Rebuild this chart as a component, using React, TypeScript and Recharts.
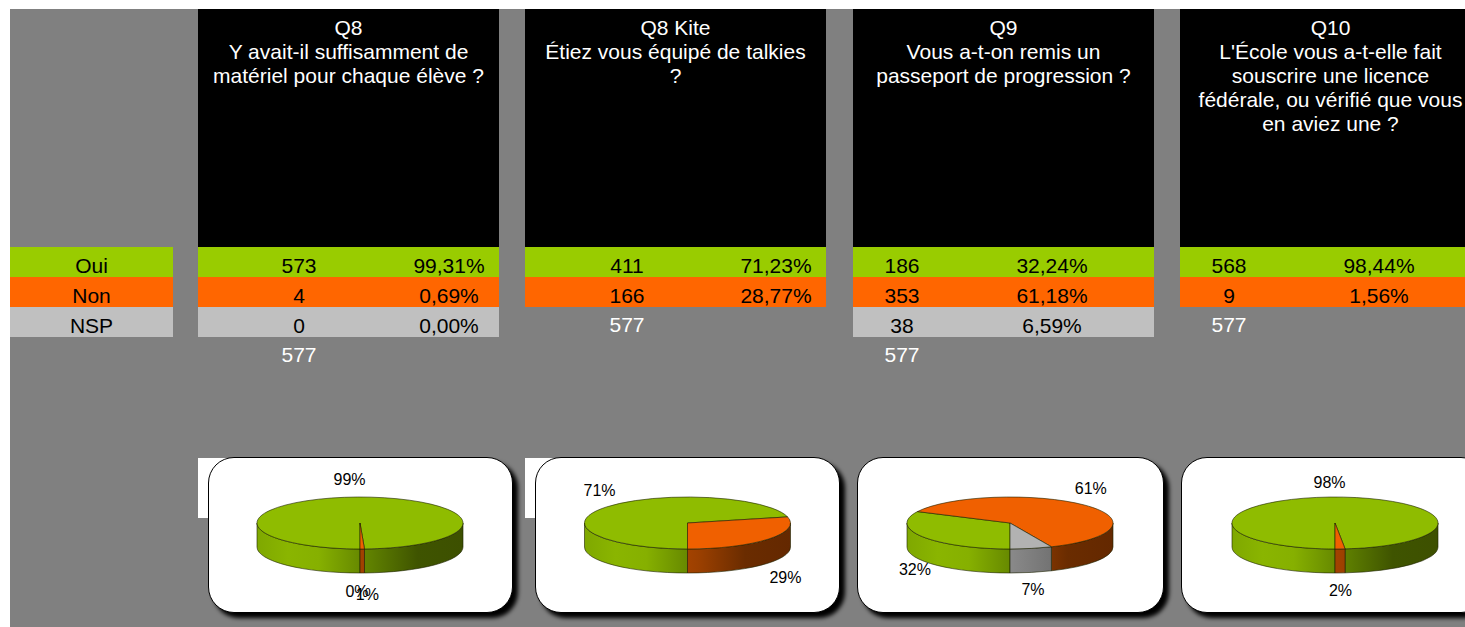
import { PieChart, Pie } from 'recharts';

const answers = ['Oui', 'Non', 'NSP'];
const titles = ['Q8', 'Q8 Kite', 'Q9', 'Q10'];
const questions = [
  ['Y avait-il suffisamment de', 'matériel pour chaque élève ?'],
  ['Étiez vous équipé de talkies', '?'],
  ['Vous a-t-on remis un', 'passeport de progression ?'],
  ["L'École vous a-t-elle fait", 'souscrire une licence', 'fédérale, ou vérifié que vous', 'en aviez une ?'],
];
const q8Counts = [573, 4, 0];
const q8KiteCounts = [411, 166];
const q9Counts = [186, 353, 38];
const q10Counts = [568, 9];
const q8Shares = ['99,31%', '0,69%', '0,00%'];
const q8KiteShares = ['71,23%', '28,77%'];
const q9Shares = ['32,24%', '61,18%', '6,59%'];
const q10Shares = ['98,44%', '1,56%'];
const totals = [577, 577, 577, 577];

const counts = [q8Counts, q8KiteCounts, q9Counts, q10Counts];
const shares = [q8Shares, q8KiteShares, q9Shares, q10Shares];

const rowColors = ['#99cc00', '#ff6600', '#c0c0c0'];
const topColors = ['#8fbc00', '#f06000', '#b2b2b2'];
const FONT = '"Liberation Sans", Arial, sans-serif';

// layout of each question block
const columns = [
  { left: 198, width: 301, countX: 101, shareX: 251, cardLeft: 208, cardWidth: 305, cx: 360, white: true },
  { left: 525, width: 301, countX: 102, shareX: 251, cardLeft: 535, cardWidth: 305, cx: 687.5, white: true },
  { left: 853, width: 301, countX: 49, shareX: 199, cardLeft: 857, cardWidth: 307, cx: 1010, white: false },
  { left: 1180, width: 301, countX: 49, shareX: 199, cardLeft: 1181, cardWidth: 306, cx: 1335, white: false },
];

// small per-label shifts where the automatic placement is off
const labelNudges = [
  [[-8, 0], [5, 5], [-3, 1]],
  [[0, 0], [10, 4]],
  [[0, 0], [0, 0], [0, 0]],
  [[0, 3], [0, 1]],
];

const CARD_TOP = 457;
const CARD_HEIGHT = 156;
const CY = 66; // pie centre, relative to card
const RX = 103;
const SQUASH = 0.2524;
const DEPTH = 24;
const EDGE = '#1c2200';

const RAD = Math.PI / 180;
const px = (cx: number, a: number) => cx + RX * Math.cos(a * RAD);
const py = (cy: number, a: number) => cy - RX * SQUASH * Math.sin(a * RAD);

function TopSlice(props: any) {
  const { cx, cy, startAngle, endAngle, fill } = props;
  if (startAngle === endAngle) return <g />;
  const large = Math.abs(startAngle - endAngle) > 180 ? 1 : 0;
  const d =
    `M${cx},${cy} L${px(cx, startAngle)},${py(cy, startAngle)} ` +
    `A${RX},${RX * SQUASH} 0 ${large} 1 ${px(cx, endAngle)},${py(cy, endAngle)} Z`;
  return <path d={d} fill={fill} stroke={EDGE} strokeOpacity={0.6} strokeWidth={1} />;
}

// Side wall: only the part of the slice on the front half of the ellipse shows
function WallSlice(props: any) {
  const { cx, cy, startAngle, endAngle, index, wallPrefix } = props;
  const hi = Math.max(startAngle, endAngle);
  const lo = Math.min(startAngle, endAngle);
  if (hi === lo) return <g />;
  const parts: [number, number][] = [];
  for (const [from, to] of [[360, 180], [0, -180]]) {
    const a = Math.min(hi, from);
    const b = Math.max(lo, to);
    if (a > b) parts.push([a, b]);
  }
  return (
    <g>
      {parts.map(([a, b]) => (
        <path
          key={a}
          d={
            `M${px(cx, a)},${py(cy, a)} A${RX},${RX * SQUASH} 0 0 1 ${px(cx, b)},${py(cy, b)} ` +
            `L${px(cx, b)},${py(cy, b) + DEPTH} A${RX},${RX * SQUASH} 0 0 0 ${px(cx, a)},${py(cy, a) + DEPTH} Z`
          }
          fill={`url(#${wallPrefix}${index})`}
          stroke={EDGE}
          strokeOpacity={0.6}
          strokeWidth={1}
        />
      ))}
    </g>
  );
}

function SliceLabel(props: any) {
  const { cx, cy, midAngle, percent, index, nudges } = props;
  const s = Math.sin(midAngle * RAD);
  const [dx, dy] = nudges[index];
  const x = cx + 112 * Math.cos(midAngle * RAD) + dx;
  const y = (s > 0 ? cy - 13 - 31 * s : cy + 23 + 44 * -s) + dy;
  return (
    <text x={x} y={y} fill="#000" fontFamily={FONT} fontSize={16} textAnchor="middle" dominantBaseline="central">
      {Math.round(percent * 100)}%
    </text>
  );
}

const wallStops = [
  ['#7fa800', '#8ab500', '#86b000', '#5f8000', '#3f5400', '#3d5000'],
  ['#c85000', '#d05400', '#c04c00', '#9c4000', '#6a2c00', '#642800'],
  ['#a8a8a8', '#b0b0b0', '#a0a0a0', '#848484', '#6a6a6a', '#606060'],
];
const stopOffsets = [0, 0.15, 0.3, 0.55, 0.78, 1];

function Panel({ i }: { i: number }) {
  const col = columns[i];
  const data = counts[i].map((v, j) => ({ name: answers[j], value: v, fill: topColors[j] }));
  const cx = col.cx - col.cardLeft;
  const prefix = `wall${i}-`;
  return (
    <>
      <div style={{ position: 'absolute', left: col.left, top: 9, width: col.width, height: 238, background: '#000', color: '#fff', textAlign: 'center', fontSize: 21, lineHeight: '24px', paddingTop: 7, boxSizing: 'border-box', whiteSpace: 'nowrap' }}>
        <div>{titles[i]}</div>
        {questions[i].map((q) => (
          <div key={q}>{q}</div>
        ))}
      </div>
      {counts[i].map((c, j) => (
        <div key={j} style={{ position: 'absolute', left: col.left, top: 247 + j * 30, width: col.width, height: 30, background: rowColors[j], color: '#000', fontSize: 21, lineHeight: '37px' }}>
          <span style={{ position: 'absolute', left: col.countX, transform: 'translateX(-50%)' }}>{c}</span>
          <span style={{ position: 'absolute', left: col.shareX, transform: 'translateX(-50%)' }}>{shares[i][j]}</span>
        </div>
      ))}
      <div style={{ position: 'absolute', left: col.left + col.countX, top: 246 + counts[i].length * 30, transform: 'translateX(-50%)', color: '#fff', fontSize: 21, lineHeight: '37px' }}>
        {totals[i]}
      </div>
      {col.white && <div style={{ position: 'absolute', left: col.left, top: 458, width: 30, height: 60, background: '#fff' }} />}
      <div style={{ position: 'absolute', left: col.cardLeft, top: CARD_TOP, width: col.cardWidth, height: CARD_HEIGHT, background: '#fff', border: '1px solid #000', boxSizing: 'border-box', borderRadius: 26, boxShadow: '5px 5px 4px #000' }}>
        <div style={{ position: 'absolute', left: -1, top: -1 }}>
          <PieChart width={col.cardWidth} height={CARD_HEIGHT} margin={{ top: 0, right: 0, bottom: 0, left: 0 }}>
            <defs>
              {wallStops.map((stops, k) => (
                <linearGradient key={k} id={`${prefix}${k}`} gradientUnits="userSpaceOnUse" x1={cx - RX} x2={cx + RX} y1={0} y2={0}>
                  {stops.map((color, n) => (
                    <stop key={n} offset={stopOffsets[n]} stopColor={color} />
                  ))}
                </linearGradient>
              ))}
            </defs>
            <Pie
              data={data}
              dataKey="value"
              cx={cx}
              cy={CY}
              outerRadius={RX}
              startAngle={270}
              endAngle={-90}
              stroke="none"
              isAnimationActive={false}
              shape={(p: any) => <WallSlice {...p} wallPrefix={prefix} />}
            />
            <Pie
              data={data}
              dataKey="value"
              cx={cx}
              cy={CY}
              outerRadius={RX}
              startAngle={270}
              endAngle={-90}
              stroke="none"
              isAnimationActive={false}
              shape={TopSlice}
              label={(p: any) => <SliceLabel {...p} nudges={labelNudges[i]} />}
              labelLine={false}
            />
          </PieChart>
        </div>
      </div>
    </>
  );
}

export default function App() {
  return (
    <div style={{ position: 'absolute', left: 0, top: 0, width: 1465, height: 627, overflow: 'hidden', background: '#fff', fontFamily: FONT }}>
      <div style={{ position: 'absolute', left: 10, top: 9, width: 1455, height: 618, background: '#808080' }} />
      {answers.map((a, j) => (
        <div key={a} style={{ position: 'absolute', left: 10, top: 247 + j * 30, width: 163, height: 30, background: rowColors[j], color: '#000', textAlign: 'center', fontSize: 21, lineHeight: '37px' }}>
          {a}
        </div>
      ))}
      {columns.map((_, i) => (
        <Panel key={i} i={i} />
      ))}
    </div>
  );
}
